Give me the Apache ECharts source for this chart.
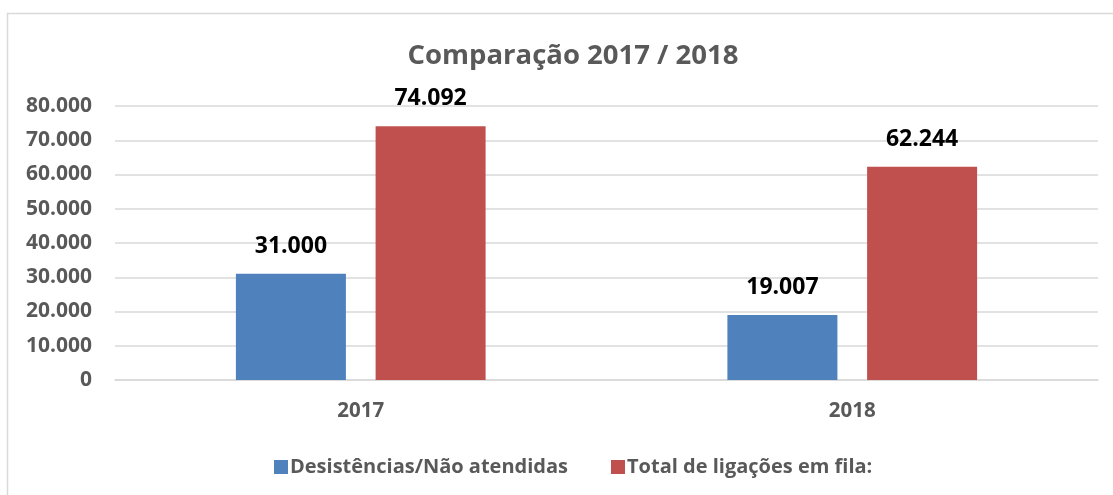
<!DOCTYPE html>
<html>
<head>
<meta charset="utf-8">
<script src="https://cdn.jsdelivr.net/npm/echarts@6/dist/echarts.min.js"></script>
<style>
  html, body { margin: 0; padding: 0; background: #fff; }
  #main { width: 1113px; height: 495px; }
</style>
</head>
<body>
<div id="main"></div>
<script>
// dados
const years = ['2017', '2018'];
const desistencias = [31000, 19007];
const totalFila = [74092, 62244];
const yTicks = [0, 10000, 20000, 30000, 40000, 50000, 60000, 70000, 80000];

const font = '"Open Sans", "Noto Sans", sans-serif';
const gray = '#595959';

function fmt(v) {
    return String(v).replace(/\B(?=(\d{3})+(?!\d))/g, '.');
}

const chart = echarts.init(document.getElementById('main'));

const labelStyle = {
    show: true,
    position: 'top',
    distance: 16,
    color: '#000',
    fontFamily: font,
    fontWeight: 'bold',
    fontSize: 23,
    formatter: p => fmt(p.value)
};

chart.setOption({
    animation: false,
    graphic: [{
        type: 'rect',
        shape: { x: 7.5, y: 13.5, width: 1200, height: 600 },
        style: { fill: 'none', stroke: '#d9d9d9', lineWidth: 1.5 }
    }],
    title: {
        text: 'Comparação 2017 / 2018',
        left: 568,
        textAlign: 'center',
        top: 37,
        textStyle: { fontFamily: font, fontWeight: 'bold', fontSize: 27.5, color: gray }
    },
    legend: {
        left: 269,
        top: 452,
        itemWidth: 14,
        itemHeight: 14,
        itemGap: 43,
        icon: 'rect',
        textStyle: { fontFamily: font, fontWeight: 'bold', fontSize: 20, color: gray, padding: [0, 0, 0, -3] },
        data: ['Desistências/Não atendidas', 'Total de ligações em fila:']
    },
    grid: { left: 115, right: 15, top: 106, bottom: 115 },
    xAxis: {
        type: 'category',
        data: years,
        axisTick: { show: false },
        axisLine: { lineStyle: { color: '#d9d9d9', width: 1.5 } },
        axisLabel: { margin: 21, fontFamily: font, fontWeight: 'bold', fontSize: 20.5, color: gray }
    },
    yAxis: {
        type: 'value',
        min: yTicks[0],
        max: yTicks[yTicks.length - 1],
        interval: yTicks[1] - yTicks[0],
        splitLine: { lineStyle: { color: '#d9d9d9', width: 1.5 } },
        axisLabel: { margin: 23, fontFamily: font, fontWeight: 'bold', fontSize: 21, color: gray, formatter: v => fmt(v) }
    },
    series: [{
        name: 'Desistências/Não atendidas',
        type: 'bar',
        data: desistencias,
        barWidth: 110,
        barGap: '27%',
        itemStyle: { color: '#4f81bd' },
        label: labelStyle
    }, {
        name: 'Total de ligações em fila:',
        type: 'bar',
        data: totalFila,
        barWidth: 110,
        itemStyle: { color: '#c0504d' },
        label: labelStyle
    }]
});
</script>
</body>
</html>
